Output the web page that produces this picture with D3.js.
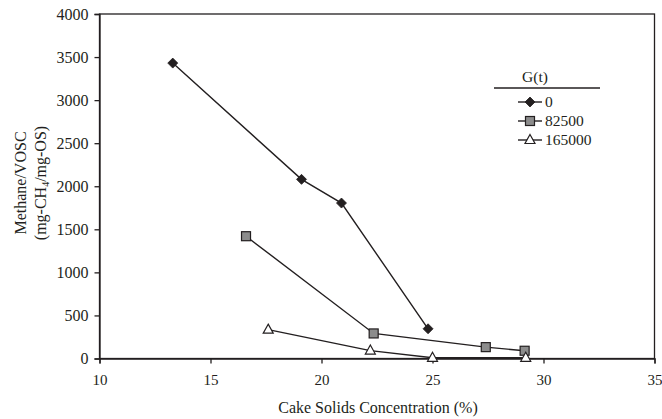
<!DOCTYPE html>
<html>
<head>
<meta charset="utf-8">
<script src="https://cdn.jsdelivr.net/npm/d3@7"></script>
<style>
  html, body { margin: 0; padding: 0; background: #fff; }
  svg { display: block; }
  svg text { font-family: "Liberation Serif", "DejaVu Serif", serif; }
</style>
</head>
<body>
<svg id="chart" width="662" height="419"></svg>
<script>
// Cake solids concentration (%) and methane/VOSC for each G(t) level
const seriesNames = ["0", "82500", "165000"];
const solids0 = [13.3, 19.1, 20.9, 24.8];
const methane0 = [3430, 2080, 1805, 345];
const solids82500 = [16.6, 22.35, 27.4, 29.15];
const methane82500 = [1420, 291, 132, 90];
const solids165000 = [17.6, 22.2, 25.0, 29.2];
const methane165000 = [335, 92, 8, 8];
const xTicks = [10, 15, 20, 25, 30, 35];
const yTicks = [0, 500, 1000, 1500, 2000, 2500, 3000, 3500, 4000];

const series = [
  { name: seriesNames[0], xs: solids0, ys: methane0, symbol: "diamond" },
  { name: seriesNames[1], xs: solids82500, ys: methane82500, symbol: "square" },
  { name: seriesNames[2], xs: solids165000, ys: methane165000, symbol: "triangle" }
];

const serif = "'Liberation Serif', 'DejaVu Serif', serif";
const svg = d3.select("#chart");
const plotLeft = 99.5, plotRight = 654.5, plotTop = 14, plotBottom = 358.5;

const x = d3.scaleLinear().domain([10, 35]).range([plotLeft, plotRight]);
const y = d3.scaleLinear().domain([0, 4000]).range([plotBottom, plotTop]);

const ink = "#231f20";

// frame
svg.append("rect")
  .attr("x", plotLeft).attr("y", plotTop)
  .attr("width", plotRight - plotLeft).attr("height", plotBottom - plotTop)
  .attr("fill", "none").attr("stroke", ink).attr("stroke-width", 1.3);

// axes
const xAxis = svg.append("g")
  .attr("transform", `translate(0,${plotBottom})`)
  .call(d3.axisBottom(x).tickValues(xTicks).tickSize(5).tickPadding(11).tickFormat(d3.format("d")));
const yAxis = svg.append("g")
  .attr("transform", `translate(${plotLeft},0)`)
  .call(d3.axisLeft(y).tickValues(yTicks).tickSize(5).tickPadding(6).tickFormat(d3.format("d")));

xAxis.attr("font-size", 15);
yAxis.attr("font-size", 16);
[xAxis, yAxis].forEach(g => {
  g.attr("font-family", serif);
  g.select(".domain").attr("stroke", ink).attr("stroke-width", 1.3);
  g.selectAll(".tick line").attr("stroke", ink).attr("stroke-width", 1.3);
  g.selectAll(".tick text").attr("fill", ink);
});

function label(parent, px, py, anchor, size, str) {
  return parent.append("text")
    .attr("x", px).attr("y", py)
    .attr("text-anchor", anchor)
    .attr("fill", ink)
    .attr("font-family", serif)
    .attr("font-size", size)
    .text(str);
}

// axis titles
label(svg, 378, 413, "middle", 16, "Cake Solids Concentration (%)");

const yTitle = svg.append("g").attr("transform", "translate(26,183) rotate(-90)");
label(yTitle, 0, 0, "middle", 16, "Methane/VOSC");
const t2 = label(yTitle, 0, 20, "middle", 16, "");
t2.append("tspan").text("(mg-CH");
t2.append("tspan").attr("baseline-shift", "-25%").attr("font-size", 10).text("4");
t2.append("tspan").text("/mg-OS)");

// marker drawing
function drawMarker(g, symbol, cx, cy) {
  if (symbol === "diamond") {
    g.append("path")
      .attr("d", `M${cx},${cy - 5}L${cx + 5},${cy}L${cx},${cy + 5}L${cx - 5},${cy}Z`)
      .attr("fill", ink).attr("stroke", ink).attr("stroke-width", 0.8);
  } else if (symbol === "square") {
    g.append("rect")
      .attr("x", cx - 4.5).attr("y", cy - 4.5).attr("width", 9).attr("height", 9)
      .attr("fill", "#8c8c8c").attr("stroke", ink).attr("stroke-width", 1.2);
  } else {
    g.append("path")
      .attr("d", `M${cx},${cy - 5.5}L${cx + 5},${cy + 3.5}L${cx - 5},${cy + 3.5}Z`)
      .attr("fill", "#fff").attr("stroke", ink).attr("stroke-width", 1.2);
  }
}

const line = d3.line().x(d => x(d[0])).y(d => y(d[1]));
const plot = svg.append("g");
series.forEach(s => {
  const pts = s.xs.map((v, i) => [v, s.ys[i]]);
  plot.append("path")
    .datum(pts)
    .attr("d", line)
    .attr("fill", "none")
    .attr("stroke", ink)
    .attr("stroke-width", 1.4);
});
series.forEach(s => {
  s.xs.forEach((v, i) => drawMarker(plot, s.symbol, x(v), y(s.ys[i])));
});

// legend
const legend = svg.append("g");
label(legend, 535, 82, "middle", 15.5, "G(t)");
legend.append("line")
  .attr("x1", 494).attr("x2", 600).attr("y1", 88).attr("y2", 88)
  .attr("stroke", ink).attr("stroke-width", 1.3);
series.forEach((s, i) => {
  const ly = 102 + i * 19;
  legend.append("line")
    .attr("x1", 518).attr("x2", 542).attr("y1", ly).attr("y2", ly)
    .attr("stroke", ink).attr("stroke-width", 1.4);
  drawMarker(legend, s.symbol, 530, ly);
  label(legend, 545, ly + 5, "start", 15.5, s.name);
});
</script>
</body>
</html>
